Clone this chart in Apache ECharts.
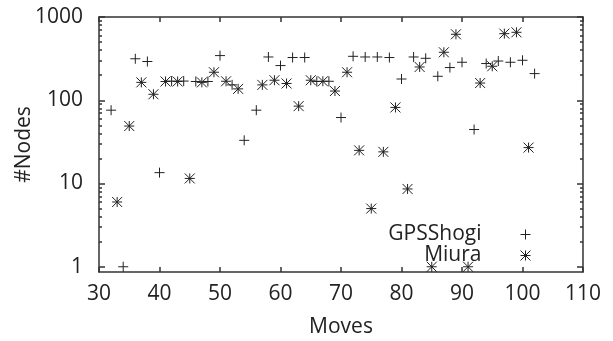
<!DOCTYPE html>
<html>
<head>
<meta charset="utf-8">
<script src="https://cdn.jsdelivr.net/npm/echarts@6/dist/echarts.min.js"></script>
<style>
  html, body { margin: 0; padding: 0; background: #fff; }
  #chart { width: 613px; height: 341px; }
</style>
</head>
<body>
<div id="chart"></div>
<script>
// moves on x, searched nodes on y (log)
const gpsMoves = [32, 34, 36, 38, 40, 42, 44, 46, 48, 50, 52, 54, 56, 58, 60, 62, 64, 66, 68, 70,
  72, 74, 76, 78, 80, 82, 84, 86, 88, 90, 92, 94, 96, 98, 100, 102]
const gpsNodes = [76, 1, 315, 292, 13.5, 170, 170, 168, 168, 344, 153, 33, 76, 331, 261, 326, 326, 168, 169, 62,
  337, 331, 331, 326, 180, 331, 319, 194, 247, 286, 44.5, 276, 296, 286, 302, 209]

const miuraMoves = [33, 35, 37, 39, 41, 43, 45, 47, 49, 51, 53, 57, 59, 61, 63, 65, 67, 69, 71,
  73, 75, 77, 79, 81, 83, 85, 87, 89, 91, 93, 95, 97, 99, 101]
const miuraNodes = [6, 49, 164, 118, 168, 168, 11.5, 164, 217, 169, 137, 153, 174, 159, 85, 174, 169, 129, 217,
  25, 5, 24, 82, 8.6, 251, 1, 377, 620, 1, 161, 256, 631, 655, 27]

const yMajor = [1, 10, 100, 1000]
const yMinor = [2, 3, 4, 5, 6, 7, 8, 9, 20, 30, 40, 50, 60, 70, 80, 90, 200, 300, 400, 500, 600, 700, 800, 900]

const font = 'Open Sans'
const ink = '#222'
const frame = { color: '#333', width: 1.5 }

const plus = 'path://M0,5L10,5M5,0L5,10'
const star = 'path://M0,5L10,5M5,0L5,10M0,0L10,10M0,10L10,0'

const xAx = (position, labels) => ({
  type: 'value', position, min: 30, max: 110, interval: 10,
  axisLine: { show: true, onZero: false, lineStyle: frame },
  axisTick: { inside: true, length: 5, lineStyle: frame },
  axisLabel: { show: labels, margin: 12, fontSize: 21, fontFamily: font, color: ink },
  splitLine: { show: false },
  name: labels ? 'Moves' : '', nameLocation: 'middle', nameGap: 45,
  nameTextStyle: { fontSize: 21, fontFamily: font, color: ink }
})

const yAx = (position, ticks, len, labels, line) => ({
  type: 'log', logBase: 10, position, min: 0.865, max: 1000,
  axisLine: { show: line, onZero: false, lineStyle: frame },
  axisTick: { inside: true, length: len, customValues: ticks, lineStyle: frame },
  axisLabel: {
    show: labels, customValues: ticks, margin: 16, fontSize: 21, fontFamily: font, color: ink,
    formatter: v => String(v)
  },
  splitLine: { show: false },
  name: labels ? '#Nodes' : '', nameLocation: 'middle', nameGap: 64, nameMoveOverlap: false,
  nameTextStyle: { fontSize: 21, fontFamily: font, color: ink }
})

const chart = echarts.init(document.getElementById('chart'), null, { renderer: 'canvas' })

chart.setOption({
  animation: false,
  backgroundColor: '#fff',
  grid: { left: 99, right: 30, top: 17, bottom: 69, containLabel: false, outerBoundsMode: 'none' },
  xAxis: [xAx('bottom', true), xAx('top', false)],
  yAxis: [
    yAx('left', yMajor, 6, true, true),
    yAx('left', yMinor, 3, false, false),
    yAx('right', yMajor, 6, false, true),
    yAx('right', yMinor, 3, false, false)
  ],
  legend: {
    orient: 'vertical', align: 'right', right: 82, top: 224, padding: 0,
    itemWidth: 78, itemHeight: 10, itemGap: 0,
    itemStyle: { borderWidth: 1 },
    textStyle: { fontSize: 21, fontFamily: font, color: ink },
    data: ['GPSShogi', 'Miura']
  },
  series: [
    {
      name: 'GPSShogi', type: 'scatter', symbol: plus, symbolSize: 10,
      itemStyle: { color: 'transparent', borderColor: ink, borderWidth: 1, opacity: 1 },
      data: gpsMoves.map((m, i) => [m, gpsNodes[i]])
    },
    {
      name: 'Miura', type: 'scatter', symbol: star, symbolSize: 10,
      itemStyle: { color: 'transparent', borderColor: ink, borderWidth: 1, opacity: 1 },
      data: miuraMoves.map((m, i) => [m, miuraNodes[i]])
    }
  ]
})
</script>
</body>
</html>
